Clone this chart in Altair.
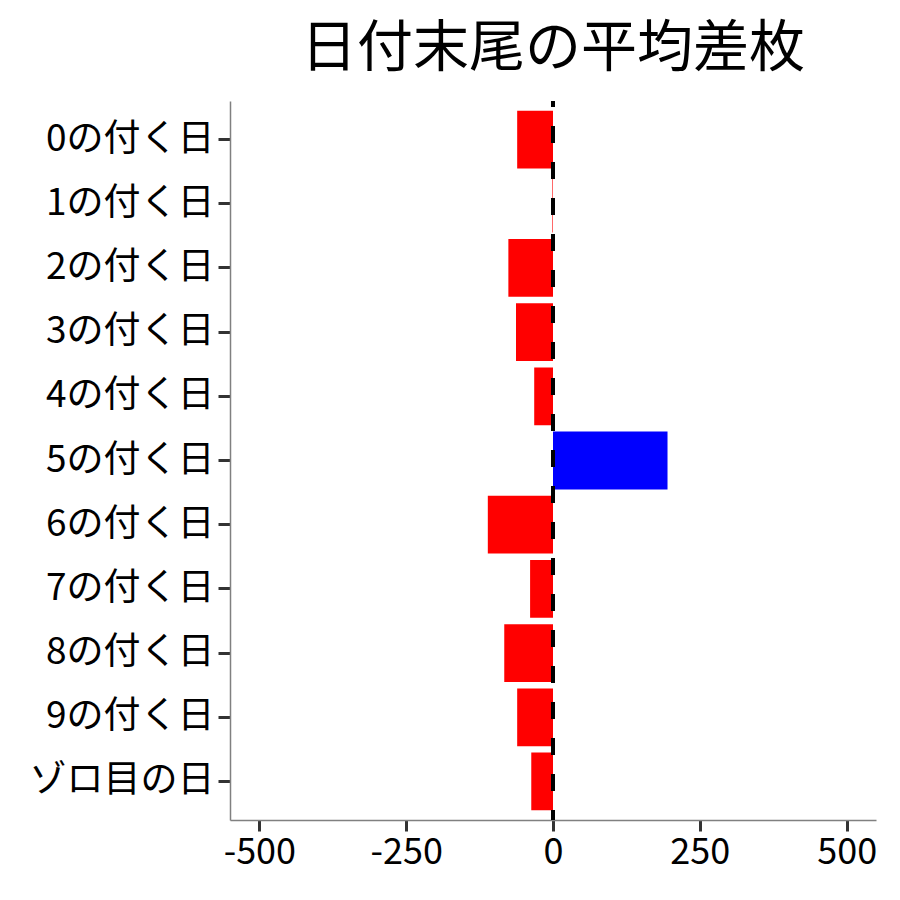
import altair as alt
import pandas as pd

categories = ["0の付く日", "1の付く日", "2の付く日", "3の付く日", "4の付く日",
              "5の付く日", "6の付く日", "7の付く日", "8の付く日", "9の付く日", "ゾロ目の日"]
values = [-61, -1, -76, -63, -32, 195, -111, -39, -83, -61, -37]
x_ticks = [-500, -250, 0, 250, 500]

df = pd.DataFrame({"cat": categories, "value": values})
FONT = "Noto Sans CJK JP"

base = alt.Chart(df)

bars = base.mark_bar().encode(
    x=alt.X("value:Q",
            scale=alt.Scale(domain=[-550, 550], nice=False, zero=False),
            axis=alt.Axis(values=x_ticks, title=None, grid=False, labelFontSize=36,
                          labelFont=FONT, labelColor="black", tickColor="#333333",
                          tickSize=11, tickWidth=3, domainColor="#808080", domainWidth=1.5,
                          labelPadding=4, labelFlush=False,
                          labelExpr="toString(datum.value)")),
    y=alt.Y("cat:N", sort=categories,
            scale=alt.Scale(paddingInner=0.1, paddingOuter=0.15),
            axis=alt.Axis(title=None, grid=False, labelFontSize=37, labelFont=FONT,
                          labelColor="black", tickColor="#333333", tickSize=12,
                          tickWidth=3, domainColor="#808080", domainWidth=1.5,
                          labelPadding=4, labelLimit=0)),
    color=alt.condition(alt.datum.value > 0, alt.value("#0000FF"), alt.value("#FF0000")),
)

zero = base.mark_rule(color="black", strokeWidth=3.5, strokeDash=[17, 19],
                      strokeDashOffset=11).encode(x=alt.datum(0))

chart = alt.layer(bars, zero).properties(
    width=646, height=719,
    title=alt.Title("日付末尾の平均差枚", fontSize=56, font=FONT, fontWeight="normal",
                    color="black", anchor="middle", frame="group", offset=21),
    autosize=alt.AutoSizeParams(type="none"),
    padding={"left": 222, "top": 93, "right": 14, "bottom": 60},
).configure_view(stroke=None)

chart.save("out.html", embed_options={"renderer": "svg", "actions": False})
